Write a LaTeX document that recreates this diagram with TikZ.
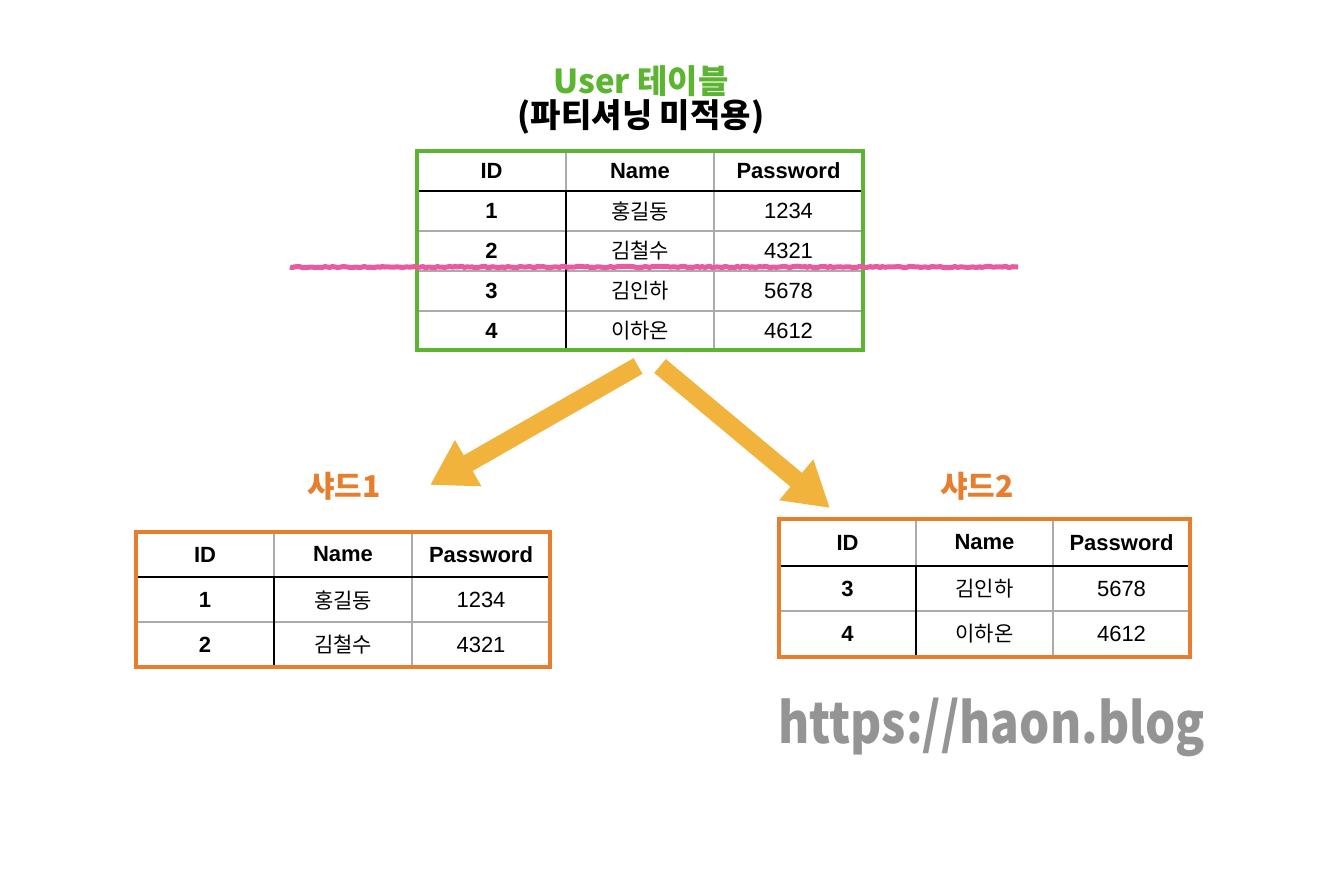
\documentclass[tikz,border=0pt]{standalone}
\usepackage{fontspec}
\usepackage{graphicx}
\setmainfont{Liberation Sans}
\newfontfamily\kr{Noto Sans CJK KR}
\usetikzlibrary{arrows.meta,decorations.pathmorphing}

\definecolor{titlegreen}{HTML}{5CB531}
\definecolor{shardorange}{HTML}{E67E2E}
\definecolor{arrowyellow}{HTML}{F2B33D}
\definecolor{cutpink}{HTML}{EA5AA0}
\definecolor{gridgray}{HTML}{ABABAB}
\definecolor{markgray}{HTML}{949494}

\tikzset{
  head/.style={inner sep=0pt, font=\fontsize{22}{24}\selectfont\bfseries},
  cell/.style={inner sep=0pt, font=\fontsize{22}{24}\selectfont},
  kcell/.style={inner sep=0pt, font=\kr\fontsize{21}{24}\selectfont},
  thinrule/.style={gridgray, line width=1.3pt},
  thickrule/.style={black, line width=2.8pt},
  userframe/.style={titlegreen, line width=3.5pt},
  shardframe/.style={shardorange, line width=3.5pt},
  bigarrow/.style={arrowyellow, line width=18pt, -{Triangle[length=44pt,width=50pt]}},
  cutline/.style={cutpink, line width=5pt, line join=round,
    decorate, decoration={random steps, segment length=2.5pt, amplitude=0.8pt}},
  shardtitle/.style={shardorange, font=\kr\fontsize{30}{32}\selectfont\bfseries},
}

\begin{document}
\begin{tikzpicture}[x=1pt,y=-1pt]
	\useasboundingbox[fill=white] (0,0) rectangle (1340,886);

	% title
	\node[titlegreen, anchor=base, font=\kr\fontsize{33}{36}\selectfont\bfseries] (title1) at (641,93) {User 테이블};
	\node[anchor=center, font=\kr\fontsize{33}{36}\selectfont\bfseries] (title2) at (641,117) {(파티셔닝 미적용)};

	% User table
	\node[head] (u-0-1) at (491.5,171) {ID};
	\node[head] (u-0-2) at (640,171) {Name};
	\node[head] (u-0-3) at (788.5,171) {Password};
	\node[head] (u-1-1) at (491.5,211) {1};
	\node[kcell] (u-1-2) at (640,211) {홍길동};
	\node[cell] (u-1-3) at (788.5,211) {1234};
	\node[head] (u-2-1) at (491.5,251) {2};
	\node[kcell] (u-2-2) at (640,251) {김철수};
	\node[cell] (u-2-3) at (788.5,251) {4321};
	\node[head] (u-3-1) at (491.5,291) {3};
	\node[kcell] (u-3-2) at (640,291) {김인하};
	\node[cell] (u-3-3) at (788.5,291) {5678};
	\node[head] (u-4-1) at (491.5,330.5) {4};
	\node[kcell] (u-4-2) at (640,330.5) {이하온};
	\node[cell] (u-4-3) at (788.5,330.5) {4612};

	\draw[thinrule] (417,231) -- (863,231);
	\draw[thinrule] (417,271) -- (863,271);
	\draw[thinrule] (417,311) -- (863,311);
	\draw[thinrule] (714,151) -- (714,350);
	\draw[thinrule] (566,151) -- (566,191);
	\draw[thickrule] (566,191) -- (566,350);
	\draw[thickrule] (417,191) -- (863,191);
	\draw[userframe] (417,151) rectangle (863,350);

	% cut
	\draw[cutline] (290,267) -- (1018,267);

	% arrows
	\coordinate (split-l) at (638,366);
	\coordinate (split-r) at (660,366);
	\coordinate (shard1-in) at (430,485);
	\coordinate (shard2-in) at (830,508);
	\draw[bigarrow] (split-l) -- (shard1-in);
	\draw[bigarrow] (split-r) -- (shard2-in);

	% shard 1
	\node[shardtitle] (shard1) at (344,486) {샤드1};
	\node[head] (a-0-1) at (205,554.5) {ID};
	\node[head] (a-0-2) at (343,554.5) {Name};
	\node[head] (a-0-3) at (481,554.5) {Password};
	\node[head] (a-1-1) at (205,600) {1};
	\node[kcell] (a-1-2) at (343,600) {홍길동};
	\node[cell] (a-1-3) at (481,600) {1234};
	\node[head] (a-2-1) at (205,644.5) {2};
	\node[kcell] (a-2-2) at (343,644.5) {김철수};
	\node[cell] (a-2-3) at (481,644.5) {4321};

	\draw[thinrule] (136,622) -- (550,622);
	\draw[thinrule] (412,532) -- (412,667);
	\draw[thinrule] (274,532) -- (274,577);
	\draw[thickrule] (274,577) -- (274,667);
	\draw[thickrule] (136,577) -- (550,577);
	\draw[shardframe] (136,532) rectangle (550,667);

	% shard 2
	\node[shardtitle] (shard2) at (977,486) {샤드2};
	\node[head] (b-0-1) at (847.5,542.5) {ID};
	\node[head] (b-0-2) at (984.5,542.5) {Name};
	\node[head] (b-0-3) at (1121.5,542.5) {Password};
	\node[head] (b-1-1) at (847.5,588.5) {3};
	\node[kcell] (b-1-2) at (984.5,588.5) {김인하};
	\node[cell] (b-1-3) at (1121.5,588.5) {5678};
	\node[head] (b-2-1) at (847.5,634) {4};
	\node[kcell] (b-2-2) at (984.5,634) {이하온};
	\node[cell] (b-2-3) at (1121.5,634) {4612};

	\draw[thinrule] (779,611) -- (1190,611);
	\draw[thinrule] (1053,519) -- (1053,657);
	\draw[thinrule] (916,519) -- (916,566);
	\draw[thickrule] (916,566) -- (916,657);
	\draw[thickrule] (779,566) -- (1190,566);
	\draw[shardframe] (779,519) rectangle (1190,657);

	% watermark
	\node[markgray, anchor=base west, inner sep=0pt, font=\kr\fontsize{56}{60}\selectfont\bfseries] (blog) at (778,743) {\scalebox{0.85}[1]{https://haon.blog}};
\end{tikzpicture}
\end{document}
